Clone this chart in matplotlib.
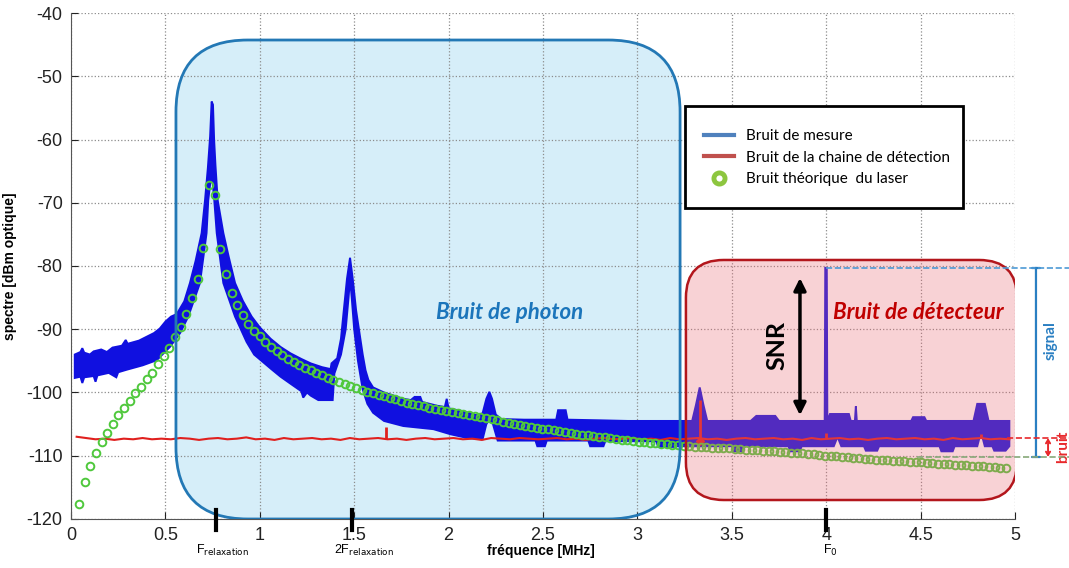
import numpy as np
import matplotlib
matplotlib.use("Agg")
import matplotlib.pyplot as plt
from matplotlib.patches import FancyBboxPatch, Rectangle
from matplotlib.lines import Line2D
from matplotlib.ticker import FormatStrFormatter

plt.rcParams['font.family'] = ['Liberation Sans', 'DejaVu Sans']
plt.rcParams['axes.unicode_minus'] = False

# bruit theorique du laser (cercles verts), un point tous les ~0.03 MHz
theorie_db = [
    -117.7, -114.2, -111.6, -109.6, -107.9, -106.4, -105.0, -103.6, -102.5, -101.3,
    -100.1, -99.1, -97.9, -96.9, -95.5, -94.3, -93.0, -91.3, -89.6, -87.6,
    -85.1, -82.0, -77.2, -67.2, -68.8, -77.3, -81.3, -84.2, -86.2, -87.8,
    -89.1, -90.2, -91.1, -92.0, -92.8, -93.5, -94.1, -94.7, -95.2, -95.7,
    -96.1, -96.5, -96.9, -97.3, -97.7, -98.0, -98.4, -98.7, -99.0, -99.3,
    -99.6, -99.9, -100.1, -100.4, -100.6, -100.9, -101.1, -101.4, -101.6, -101.8,
    -102.0, -102.2, -102.4, -102.6, -102.8, -103.0, -103.1, -103.3, -103.4, -103.55,
    -103.7, -103.85, -104.0, -104.2, -104.4, -104.6, -104.8, -105.0, -105.1, -105.25,
    -105.4, -105.55, -105.7, -105.8, -105.95, -106.1, -106.25, -106.4, -106.5, -106.65,
    -106.8, -106.9, -107.0, -107.1, -107.2, -107.35, -107.45, -107.55, -107.7, -107.75,
    -107.85, -107.95, -108.05, -108.15, -108.2, -108.3, -108.35, -108.4, -108.5, -108.55,
    -108.6, -108.65, -108.7, -108.75, -108.8, -108.85, -108.9, -109.0, -109.05, -109.1,
    -109.15, -109.2, -109.25, -109.3, -109.35, -109.45, -109.5, -109.55, -109.6, -109.7,
    -109.8, -109.9, -110.0, -110.05, -110.1, -110.2, -110.25, -110.3, -110.4, -110.45,
    -110.55, -110.6, -110.7, -110.75, -110.8, -110.85, -110.9, -110.95, -111.0, -111.05,
    -111.1, -111.2, -111.25, -111.3, -111.35, -111.4, -111.45, -111.5, -111.55, -111.6,
    -111.7, -111.75, -111.85, -111.9, -112.0,
]
theorie_f = np.linspace(0.042, 4.952, len(theorie_db))

# bruit de mesure : enveloppe haute et basse de la bande bleue (MHz, dBm)
mesure_haut = [
    (0.02, -94.0), (0.05, -93.6), (0.06, -93.0), (0.07, -93.7), (0.10, -94.0),
    (0.12, -93.5), (0.16, -93.2), (0.19, -93.6), (0.22, -92.9), (0.27, -92.6),
    (0.29, -91.7), (0.30, -92.3), (0.36, -91.8), (0.40, -91.2), (0.44, -90.6),
    (0.47, -89.9), (0.50, -88.8), (0.53, -88.0), (0.56, -87.6), (0.60, -85.6),
    (0.63, -82.7), (0.66, -79.2), (0.692, -74.8), (0.710, -69.6), (0.725, -64.5),
    (0.737, -59.5), (0.745, -54.0), (0.752, -54.5), (0.758, -60.0), (0.765, -64.0),
    (0.777, -69.6), (0.807, -74.8), (0.835, -78.5), (0.869, -82.7), (0.91, -85.5),
    (0.957, -88.0), (1.00, -89.7), (1.057, -91.5), (1.11, -92.8), (1.162, -93.8),
    (1.22, -94.7), (1.27, -95.4), (1.33, -96.0), (1.375, -96.3), (1.38, -95.4),
    (1.41, -94.6), (1.43, -91.5), (1.445, -87.0), (1.462, -82.0), (1.478, -78.7),
    (1.492, -82.0), (1.51, -87.0), (1.53, -91.0), (1.545, -94.0), (1.56, -96.5),
    (1.575, -98.0), (1.60, -99.2), (1.658, -100.0), (1.70, -100.4), (1.76, -101.0),
    (1.80, -101.2), (1.82, -100.7), (1.85, -100.7), (1.86, -101.5), (1.94, -102.1),
    (1.98, -102.3), (1.99, -101.0), (2.00, -102.5), (2.08, -103.0), (2.15, -103.6),
    (2.18, -103.3), (2.20, -101.0), (2.216, -99.9), (2.23, -101.0), (2.25, -103.5),
    (2.28, -104.2), (2.40, -104.3), (2.57, -104.3), (2.58, -102.8), (2.62, -102.8),
    (2.63, -104.3), (2.80, -104.4), (2.95, -104.5), (3.10, -104.5), (3.22, -104.5),
    (3.29, -104.5), (3.31, -102.0), (3.33, -99.2), (3.35, -102.0), (3.37, -104.5),
    (3.60, -104.5), (3.63, -103.7), (3.73, -103.7), (3.75, -104.5), (3.992, -104.5),
    (3.995, -80.3), (4.003, -80.3), (4.006, -104.5), (4.02, -103.4), (4.12, -103.4),
    (4.13, -104.5), (4.152, -104.5), (4.157, -102.2), (4.162, -104.5), (4.45, -104.5),
    (4.46, -103.9), (4.52, -103.9), (4.53, -104.5), (4.78, -104.5), (4.80, -101.8),
    (4.84, -101.8), (4.86, -104.5), (4.97, -104.5),
]
mesure_bas = [
    (0.02, -97.7), (0.05, -97.5), (0.06, -98.5), (0.07, -97.6), (0.12, -97.4),
    (0.13, -98.3), (0.14, -97.3), (0.20, -96.9), (0.24, -97.6), (0.25, -96.8),
    (0.295, -96.4), (0.38, -95.7), (0.454, -94.9), (0.524, -92.8), (0.578, -90.6),
    (0.621, -88.0), (0.683, -82.7), (0.718, -74.8), (0.727, -69.6), (0.745, -65.0),
    (0.759, -69.6), (0.772, -74.8), (0.807, -82.7), (0.869, -88.0), (0.93, -92.0),
    (0.97, -94.0), (1.061, -96.3), (1.11, -97.5), (1.167, -98.7), (1.22, -99.8),
    (1.23, -100.8), (1.25, -100.0), (1.27, -100.5), (1.31, -101.2), (1.386, -101.2),
    (1.395, -97.0), (1.43, -94.0), (1.455, -90.0), (1.47, -85.0), (1.478, -82.0),
    (1.487, -85.0), (1.50, -90.0), (1.52, -95.0), (1.545, -99.5), (1.57, -101.8),
    (1.60, -103.2), (1.658, -104.5), (1.76, -105.3), (1.92, -105.8), (2.01, -106.6),
    (2.10, -107.2), (2.18, -107.4), (2.20, -105.0), (2.216, -104.3), (2.235, -105.0),
    (2.26, -107.6), (2.46, -107.6), (2.47, -108.5), (2.51, -108.5), (2.52, -107.6),
    (2.74, -107.6), (2.75, -108.5), (2.82, -108.5), (2.83, -107.7), (3.10, -107.7),
    (3.11, -108.6), (3.20, -108.6), (3.21, -108.5), (3.50, -108.5), (3.51, -109.3),
    (3.55, -109.3), (3.56, -108.5), (3.80, -108.5), (3.81, -109.3), (3.86, -109.3),
    (3.87, -108.5), (4.04, -108.5), (4.06, -107.0), (4.08, -108.5), (4.20, -108.5),
    (4.21, -109.2), (4.27, -109.2), (4.28, -108.5), (4.60, -108.5), (4.61, -109.3),
    (4.67, -109.3), (4.68, -108.5), (4.80, -108.5), (4.82, -106.2), (4.84, -108.5),
    (4.88, -108.5), (4.89, -109.2), (4.95, -109.2), (4.97, -108.5),
]

# bruit de la chaine de detection (ligne rouge), un point tous les ~0.05 MHz
chaine_db = [
    -107.0, -107.2, -107.4, -107.3, -107.5, -107.3, -107.4, -107.2, -107.4, -107.3,
    -107.4, -107.2, -107.3, -107.5, -107.3, -107.2, -107.4, -107.3, -107.1, -107.4,
    -107.3, -107.5, -107.2, -107.4, -107.3, -107.2, -107.4, -107.3, -107.5, -107.2,
    -107.4, -107.3, -107.2, -107.4, -107.3, -107.5, -107.3, -107.2, -107.4, -107.3,
    -107.2, -107.4, -107.3, -107.5, -107.2, -107.3, -107.4, -107.2, -107.3, -107.4,
    -107.3, -107.2, -107.4, -107.3, -107.5, -107.3, -107.2, -107.4, -107.3, -107.2,
    -107.4, -107.3, -107.5, -107.2, -107.4, -107.3, -107.2, -107.4, -107.3, -107.5,
    -107.3, -107.2, -107.4, -107.3, -107.2, -107.4, -107.3, -107.5, -107.2, -107.4,
    -107.3, -107.2, -107.4, -107.3, -107.5, -107.3, -107.2, -107.4, -107.3, -107.2,
    -107.4, -107.3, -107.5, -107.2, -107.4, -107.3, -107.2, -107.4, -107.3, -107.4,
]
chaine_f = np.linspace(0.03, 4.97, len(chaine_db))
pics_chaine_f = [1.667, 3.33, 4.0, 4.82]
pics_chaine_db = [-105.4, -101.2, -106.4, -106.6]

# niveaux reportes a droite
niveau_signal = -80.3
niveau_bruit = -107.2
niveau_theorie = -110.2

reperes_f = [0.768, 1.49, 4.0]
reperes_txt_f = [0.80, 1.55, 4.02]
reperes_txt = [r'F$_{\mathrm{relaxation}}$', r'2F$_{\mathrm{relaxation}}$', r'F$_{\mathrm{0}}$']

fig = plt.figure(figsize=(10.69, 5.68), dpi=100)
ax = fig.add_axes([0.0664, 0.0863, 0.8831, 0.8908])
ax.set_xlim(0, 5)
ax.set_ylim(-120, -40)
# rapport pixels : unites y par unite x pour arrondir les coins
asp = (0.8831 * 1069 / 5) / (0.8908 * 568 / 80)

calibri = ['Lato', 'DejaVu Sans']

# zone bruit de photon
ax.add_patch(FancyBboxPatch((0.556, -120), 3.226 - 0.556, 120 - 44.27,
                            boxstyle="round,pad=0,rounding_size=0.38",
                            mutation_aspect=asp, fc='#d6eef9', ec='none', zorder=0.3))
ax.add_patch(FancyBboxPatch((0.556, -120), 3.226 - 0.556, 120 - 44.27,
                            boxstyle="round,pad=0,rounding_size=0.38",
                            mutation_aspect=asp, fc='none', ec='#2378b5', lw=2, zorder=6))

ax.grid(True, ls=':', color='#8c8c8c', lw=0.9)
ax.set_axisbelow(True)

hx = [p[0] for p in mesure_haut] + [p[0] for p in mesure_bas][::-1]
hy = [p[1] for p in mesure_haut] + [p[1] for p in mesure_bas][::-1]
ax.fill(hx, hy, color='#1010e0', lw=1.4, zorder=2)

ax.plot(chaine_f, chaine_db, color='#e0201e', lw=1.5, zorder=3)
ax.vlines(pics_chaine_f, np.interp(pics_chaine_f, chaine_f, chaine_db), pics_chaine_db,
          color='#e0201e', lw=2, zorder=3)
ax.plot(3.33, -107.6, marker='D', ms=4, color='#e0201e', zorder=3)

ax.plot(theorie_f, theorie_db, ls='none', marker='o', ms=5.5, mfc='none',
        mec='#4fc83c', mew=1.4, zorder=4)

# zone bruit de detecteur (semi transparente, par dessus les courbes)
ax.add_patch(FancyBboxPatch((3.257, -117.0), 5.01 - 3.257, 117.0 - 79.05,
                            boxstyle="round,pad=0,rounding_size=0.2",
                            mutation_aspect=asp, fc=(0.92, 0.42, 0.46, 0.3), ec='none', zorder=5))
ax.add_patch(FancyBboxPatch((3.257, -117.0), 5.01 - 3.257, 117.0 - 79.05,
                            boxstyle="round,pad=0,rounding_size=0.2",
                            mutation_aspect=asp, fc='none', ec='#b3161c', lw=1.8, zorder=6))

ax.text(2.325, -87.4, 'Bruit de photon', color='#1b75bb', fontsize=16, fontweight='bold',
        style='italic', family=calibri, ha='center', va='center', zorder=7)
ax.text(4.486, -87.4, 'Bruit de détecteur', color='#c00000', fontsize=16, fontweight='bold',
        style='italic', family=calibri, ha='center', va='center', zorder=7)
ax.text(3.74, -92.6, 'SNR', rotation=90, fontsize=18, fontweight='bold', family=calibri,
        ha='center', va='center', zorder=7)
ax.annotate('', xy=(3.861, -81.9), xytext=(3.861, -103.6),
            arrowprops=dict(arrowstyle='<|-|>', color='black', lw=2.5, mutation_scale=18,
                            shrinkA=0, shrinkB=0), zorder=7)

# niveaux a droite
ax.plot([4.0, 5.29], [niveau_signal] * 2, ls='--', color='#4d9ad6', lw=1.2, clip_on=False, zorder=7)
ax.plot([4.96, 5.29], [niveau_bruit] * 2, ls='--', color='#e8282b', lw=1.2, clip_on=False, zorder=7)
ax.plot([4.48, 5.29], [niveau_theorie] * 2, ls='--', color='#86a878', lw=1.2, clip_on=False, zorder=7)
ax.annotate('', xy=(5.111, niveau_signal), xytext=(5.111, niveau_theorie), annotation_clip=False,
            arrowprops=dict(arrowstyle='|-|,widthA=0.3,widthB=0.3', color='#2a7fc2', lw=1.6,
                            shrinkA=0, shrinkB=0))
ax.text(5.19, -91.8, 'signal', rotation=90, color='#2a7fc2', fontsize=11, fontweight='bold',
        family=calibri, ha='center', va='center', clip_on=False)
ax.annotate('', xy=(5.175, niveau_bruit), xytext=(5.175, niveau_theorie), annotation_clip=False,
            arrowprops=dict(arrowstyle='<->,head_length=0.25,head_width=0.15', color='#e8282b',
                            lw=1.4, shrinkA=0, shrinkB=0))
ax.text(5.254, -108.6, 'bruit', rotation=90, color='#e8282b', fontsize=11, fontweight='bold',
        family=calibri, ha='center', va='center', clip_on=False)

# legende
ax.add_patch(Rectangle((0.650, 0.615), 0.295, 0.201, transform=ax.transAxes,
                       fc='white', ec='black', lw=2, zorder=8))
poignees = [Line2D([], [], color='#4f81bd', lw=3),
            Line2D([], [], color='#c0504d', lw=3),
            Line2D([], [], ls='none', marker='o', ms=8, mfc='white', mec='#8dc63f', mew=3.5)]
leg = ax.legend(poignees, ['Bruit de mesure', 'Bruit de la chaine de détection',
                           'Bruit théorique  du laser'],
                loc='upper left', bbox_to_anchor=(0.664, 0.783), frameon=False,
                prop={'family': calibri, 'size': 11}, handlelength=2.0,
                labelspacing=0.5, handletextpad=0.75, borderaxespad=0)
leg.set_zorder(9)

# axes facon matlab
for s in ['top', 'right']:
    ax.spines[s].set_visible(False)
for s in ['left', 'bottom']:
    ax.spines[s].set_color('#555555')
ax.set_xticks(np.arange(0, 5.01, 0.5))
ax.set_yticks(np.arange(-120, -39, 10))
ax.xaxis.set_major_formatter(FormatStrFormatter('%g'))
ax.tick_params(direction='in', length=5, labelsize=13, colors='#222222', pad=6)

ax.set_ylabel('spectre [dBm optique]', fontsize=10, fontweight='bold')
ax.yaxis.set_label_coords(-0.057, 0.5)
ax.text(2.49, -0.063, 'fréquence [MHz]', transform=ax.get_xaxis_transform(), fontsize=10,
        fontweight='bold', ha='center', va='center')

tr = ax.get_xaxis_transform()
for f, ft, txt in zip(reperes_f, reperes_txt_f, reperes_txt):
    ax.plot([f, f], [0.018, -0.022], transform=tr, color='black', lw=3, clip_on=False, zorder=9)
    ax.text(ft, -0.063, txt, transform=tr, fontsize=9, ha='center', va='center')

fig.savefig('out.png', dpi=100)
